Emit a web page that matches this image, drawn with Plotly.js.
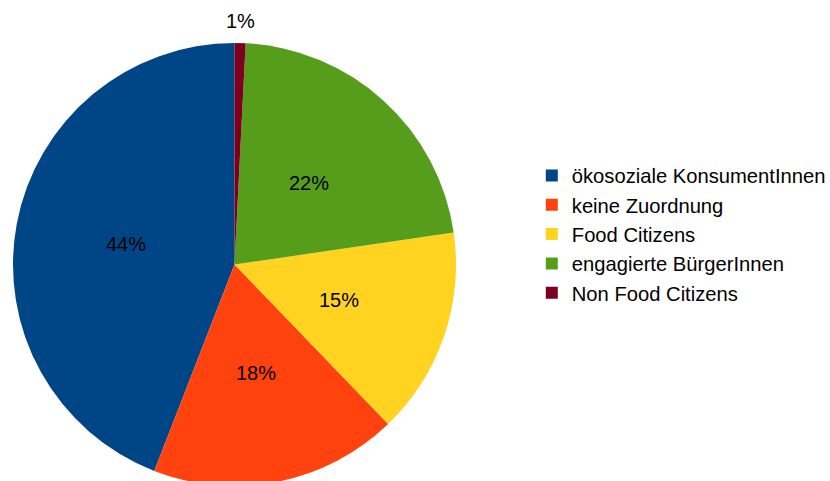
<!DOCTYPE html>
<html>
<head>
<meta charset="utf-8">
<script src="https://cdn.plot.ly/plotly-3.0.1.min.js"></script>
<style>
html, body { margin: 0; padding: 0; overflow: hidden; background: #fff; }
#chart { width: 830px; height: 490px; }
</style>
</head>
<body>
<div id="chart"></div>
<script>
const categories = ["ökosoziale KonsumentInnen", "keine Zuordnung", "Food Citizens", "engagierte BürgerInnen", "Non Food Citizens"];
const shares = [44.1, 18.1, 15.1, 21.9, 0.8];
const sliceColors = ["#004586", "#ff420e", "#ffd320", "#579d1c", "#7e0021"];
const labelRadius = [0.5, 0.5, 0.5, 0.5, 1.1];   // fraction of pie radius where each percent label sits

const total = shares.reduce((a, b) => a + b, 0);
// first slice starts at 12 o'clock and runs counterclockwise
const startRotation = -360 * shares[0] / total;

const FONT = "Liberation Sans, Arial, sans-serif";

// figure geometry (pixels)
const W = 830, H = 490;
const M = { l: 13, r: 0, t: 43, b: 4 };
const plotW = W - M.l - M.r, plotH = H - M.t - M.b;
const pieSize = Math.min(plotH, 443);
const domX = [0, pieSize / plotW];

const trace = {
  type: "pie",
  labels: categories,
  values: shares,
  sort: false,
  direction: "counterclockwise",
  rotation: startRotation,
  marker: { colors: sliceColors, line: { width: 0 } },
  textinfo: "none",
  domain: { x: domX, y: [0, 1] },
  hoverinfo: "label+percent"
};

// percent labels placed along each slice's mid-angle
const cx = (domX[0] + domX[1]) / 2, cy = 0.5;
const rx = (pieSize / 2) / plotW, ry = (pieSize / 2) / plotH;
let cum = 0;
const annotations = shares.map((v, i) => {
  const mid = (cum + v / 2) / total;
  cum += v;
  const theta = -2 * Math.PI * mid; // counterclockwise from 12 o'clock
  return {
    xref: "paper", yref: "paper",
    x: cx + labelRadius[i] * rx * Math.sin(theta),
    y: cy + labelRadius[i] * ry * Math.cos(theta),
    text: Math.round(100 * v / total) + "%",
    showarrow: false,
    xanchor: "center", yanchor: "middle",
    font: { family: FONT, size: 20, color: "#000000" }
  };
});

const layout = {
  width: W,
  height: H,
  margin: { l: M.l, r: M.r, t: M.t, b: M.b, autoexpand: false },
  paper_bgcolor: "#ffffff",
  showlegend: true,
  legend: {
    x: 0.635, y: 0.745, xanchor: "left", yanchor: "top",
    font: { family: FONT, size: 20.2, color: "#000000" },
    itemwidth: 30,
    traceorder: "normal"
  },
  annotations: annotations,
  font: { family: FONT }
};

Plotly.newPlot("chart", [trace], layout, { displayModeBar: false, staticPlot: true });
</script>
</body>
</html>
